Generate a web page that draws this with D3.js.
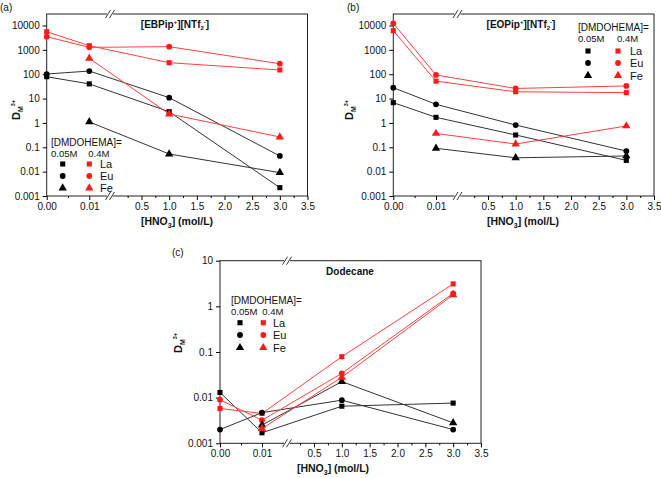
<!DOCTYPE html>
<html><head><meta charset="utf-8">
<script src="https://cdn.jsdelivr.net/npm/d3@7"></script>
<style>
body{margin:0;background:#fff;}
svg{display:block;font-family:"Liberation Sans",Arial,sans-serif;}
</style></head>
<body>
<svg id="chart" width="661" height="478"></svg>
<script>
// x categories ([HNO3], mol/L)
const hno3 = [0, 0.01, 1.0, 3.0];
// tick labels
const yTicksAB = [10000, 1000, 100, 10, 1, 0.1, 0.01, 0.001];
const yTicksC = [10, 1, 0.1, 0.01, 0.001];
const xTicksLeft = [0, 0.01];
const xTicksRight = [0.5, 1.0, 1.5, 2.0, 2.5, 3.0, 3.5];
const xMinorLeft = [0.005];
const xMinorRight = [0.25, 0.75, 1.25, 1.75, 2.25, 2.75, 3.25];
const elements = ["La", "Eu", "Fe"];

// Panel (a) [EBPip+][NTf2-]
const aLa005 = [79, 40, 2.9, 0.0022];
const aEu005 = [102, 135, 10.9, 0.044];
const aFe005 = [null, 1.1, 0.053, 0.0091];
const aLa04 = [5560, 1480, 297, 149];
const aEu04 = [3470, 1270, 1350, 270];
const aFe04 = [null, 450, 2.33, 0.265];
// Panel (b) [EOPip+][NTf2-]
const bLa005 = [6.8, 1.7, 0.32, 0.029];
const bEu005 = [28, 5.8, 0.82, 0.07];
const bFe005 = [null, 0.091, 0.037, 0.044];
const bLa04 = [6100, 52, 19, 17.5];
const bEu04 = [12300, 93, 26, 33];
const bFe04 = [null, 0.37, 0.136, 0.75];
// Panel (c) Dodecane
const cLa005 = [0.013, 0.0017, 0.0065, 0.0076];
const cEu005 = [0.002, 0.0047, 0.0088, 0.002];
const cFe005 = [null, 0.0025, 0.0225, 0.0028];
const cLa04 = [0.0058, 0.0045, 0.079, 3.1];
const cEu04 = [0.009, 0.0032, 0.034, 1.93];
const cFe04 = [null, 0.0021, 0.028, 1.78];

const BLACK = "#000", RED = "#ff1a1a";
const symTypes = {La: d3.symbolSquare, Eu: d3.symbolCircle, Fe: d3.symbolTriangle};
const symSize = {La: 26, Eu: 26, Fe: 30};

const panels = [
  {tag:"(a)", tagX:0, tagY:11, title:"[EBPip", title2:"][NTf", titleX:175, titleY:28,
   left:46.7, right:307.5, top:14, bottom:196, brk:110, x01:89.3, x05:141.5,
   yDom:[0.001,10000], yRange:[196,25.5], yTicks:yTicksAB,
   series:{La:[aLa005,aLa04], Eu:[aEu005,aEu04], Fe:[aFe005,aFe04]},
   leg:{x:51, y:146, bx:62.7, rx:89.3, lx:100, rowY:[164,176,188]},
   yLabX:20, yLabY:110, xLabX:177, xLabY:225},
  {tag:"(b)", tagX:347, tagY:11, title:"[EOPip", title2:"][NTf", titleX:521, titleY:28,
   left:393.3, right:654, top:14, bottom:196, brk:457.5, x01:436, x05:488,
   yDom:[0.001,10000], yRange:[196,25.5], yTicks:yTicksAB,
   series:{La:[bLa005,bLa04], Eu:[bEu005,bEu04], Fe:[bFe005,bFe04]},
   leg:{x:578, y:31, bx:588, rx:618, lx:630, rowY:[51,63,75.5]},
   yLabX:353, yLabY:110, xLabX:523, xLabY:225},
  {tag:"(c)", tagX:172, tagY:256, title:"Dodecane", titleX:350, titleY:275,
   left:220, right:481, top:260.7, bottom:443.3, brk:287, x01:262, x05:314,
   yDom:[0.001,10], yRange:[443.3,260.7], yTicks:yTicksC,
   series:{La:[cLa005,cLa04], Eu:[cEu005,cEu04], Fe:[cFe005,cFe04]},
   leg:{x:231, y:304, bx:240, rx:263.3, lx:273, rowY:[322.7,335,347.7]},
   yLabX:182, yLabY:343, xLabX:333, xLabY:472}
];

const svg = d3.select("#chart");

function fmtY(d){ return d >= 1 ? d3.format("d")(d) : String(d); }
function fmtX(d){ return d < 0.1 ? d3.format(".2f")(d) : d3.format(".1f")(d); }

panels.forEach(p => {
  const g = svg.append("g");
  const brkVal = 0.01 * (p.brk - p.left) / (p.x01 - p.left);
  const xl = d3.scaleLinear().domain([0, brkVal]).range([p.left, p.brk]);
  const slope = (p.right - p.x05) / 3.0;
  const rStart = 0.5 - (p.x05 - p.brk) / slope;
  const xr = d3.scaleLinear().domain([rStart, 3.5]).range([p.brk, p.right]);
  const x = v => v < 0.1 ? xl(v) : xr(v);
  const y = d3.scaleLog().domain(p.yDom).range(p.yRange);

  // frame
  g.append("rect").attr("x", p.left).attr("y", p.top)
    .attr("width", p.right - p.left).attr("height", p.bottom - p.top)
    .attr("fill", "none").attr("stroke", "#222").attr("stroke-width", 1);

  // y axis
  const ya = g.append("g").attr("transform", `translate(${p.left},0)`)
    .call(d3.axisLeft(y).tickValues(p.yTicks).tickFormat(fmtY).tickSize(4).tickPadding(3));
  ya.select(".domain").remove();
  ya.selectAll("text").attr("font-size", 10).attr("fill", "#111");

  // x axis segments
  [[xl, xTicksLeft, xMinorLeft], [xr, xTicksRight, xMinorRight]].forEach(([sc, tv, mv]) => {
    const ax = g.append("g").attr("transform", `translate(0,${p.bottom})`)
      .call(d3.axisBottom(sc).tickValues(tv).tickFormat(fmtX).tickSize(4).tickPadding(3));
    ax.select(".domain").remove();
    ax.selectAll("text").attr("font-size", 10).attr("fill", "#111");
    const mn = g.append("g").attr("transform", `translate(0,${p.bottom})`)
      .call(d3.axisBottom(sc).tickValues(mv).tickFormat("").tickSize(2));
    mn.select(".domain").remove();
  });

  // break marks
  [p.top, p.bottom].forEach(yy => {
    g.append("rect").attr("x", p.brk - 3).attr("y", yy - 1.5).attr("width", 6).attr("height", 3).attr("fill", "#fff");
    [-2, 2].forEach(dx => {
      g.append("line").attr("x1", p.brk + dx - 2.5).attr("y1", yy + 4)
        .attr("x2", p.brk + dx + 2.5).attr("y2", yy - 4)
        .attr("stroke", "#222").attr("stroke-width", 0.9);
    });
  });

  // series
  const line = d3.line().defined(d => d.v != null).x(d => x(d.x)).y(d => y(d.v));
  elements.forEach(el => {
    p.series[el].forEach((vals, ci) => {
      const col = ci === 0 ? BLACK : RED;
      const pts = hno3.map((xv, i) => ({x: xv, v: vals[i]}));
      g.append("path").datum(pts).attr("d", line).attr("fill", "none")
        .attr("stroke", ci === 0 ? "#333" : "#ff4040").attr("stroke-width", 1);
      g.selectAll(null).data(pts.filter(d => d.v != null)).enter().append("path")
        .attr("d", d3.symbol().type(symTypes[el]).size(symSize[el]))
        .attr("transform", d => `translate(${x(d.x)},${y(d.v)})`)
        .attr("fill", col);
    });
  });

  // title
  if (p.title2) {
    const t = g.append("text").attr("x", p.titleX).attr("y", p.titleY).attr("text-anchor", "middle")
      .attr("font-size", 10).attr("font-weight", "bold").attr("fill", "#111");
    t.append("tspan").text(p.title);
    t.append("tspan").text("+").attr("font-size", 6).attr("dy", -4);
    t.append("tspan").text(p.title2).attr("dy", 4);
    t.append("tspan").text("2").attr("font-size", 6).attr("dy", 2);
    t.append("tspan").text("-").attr("font-size", 6).attr("dy", -6);
    t.append("tspan").text("]").attr("dy", 4);
  } else {
    g.append("text").attr("x", p.titleX).attr("y", p.titleY).attr("text-anchor", "middle")
      .attr("font-size", 10).attr("font-weight", "bold").attr("fill", "#111").text(p.title);
  }

  // panel tag
  g.append("text").attr("x", p.tagX).attr("y", p.tagY).attr("font-size", 10).attr("fill", "#111").text(p.tag);

  // x label
  const xt = g.append("text").attr("x", p.xLabX).attr("y", p.xLabY).attr("text-anchor", "middle")
    .attr("font-size", 10.5).attr("font-weight", "bold").attr("fill", "#111");
  xt.append("tspan").text("[HNO");
  xt.append("tspan").text("3").attr("font-size", 7).attr("dy", 3);
  xt.append("tspan").text("] (mol/L)").attr("dy", -3);

  // y label
  const yt = g.append("text").attr("transform", `translate(${p.yLabX},${p.yLabY}) rotate(-90)`)
    .attr("text-anchor", "middle").attr("font-size", 11).attr("font-weight", "bold").attr("fill", "#111");
  yt.append("tspan").text("D");
  yt.append("tspan").text("M").attr("font-size", 7).attr("dy", 3);
  yt.append("tspan").text("3+").attr("font-size", 5.5).attr("dy", -8);

  // legend
  const L = p.leg;
  g.append("text").attr("x", L.x).attr("y", L.y).attr("font-size", 10).attr("fill", "#111").text("[DMDOHEMA]=");
  g.append("text").attr("x", L.x).attr("y", L.y + 11).attr("font-size", 9.5).attr("fill", "#111").text("0.05M");
  g.append("text").attr("x", L.rx - 1).attr("y", L.y + 11).attr("font-size", 9.5).attr("fill", "#111").text("0.4M");
  elements.forEach((el, i) => {
    const yy = L.rowY[i];
    g.append("path").attr("d", d3.symbol().type(symTypes[el]).size(symSize[el]))
      .attr("transform", `translate(${L.bx},${yy})`).attr("fill", BLACK);
    g.append("path").attr("d", d3.symbol().type(symTypes[el]).size(symSize[el]))
      .attr("transform", `translate(${L.rx},${yy})`).attr("fill", RED);
    g.append("text").attr("x", L.lx).attr("y", yy + 4).attr("font-size", 11).attr("fill", "#111").text(el);
  });
});
</script>
</body></html>
